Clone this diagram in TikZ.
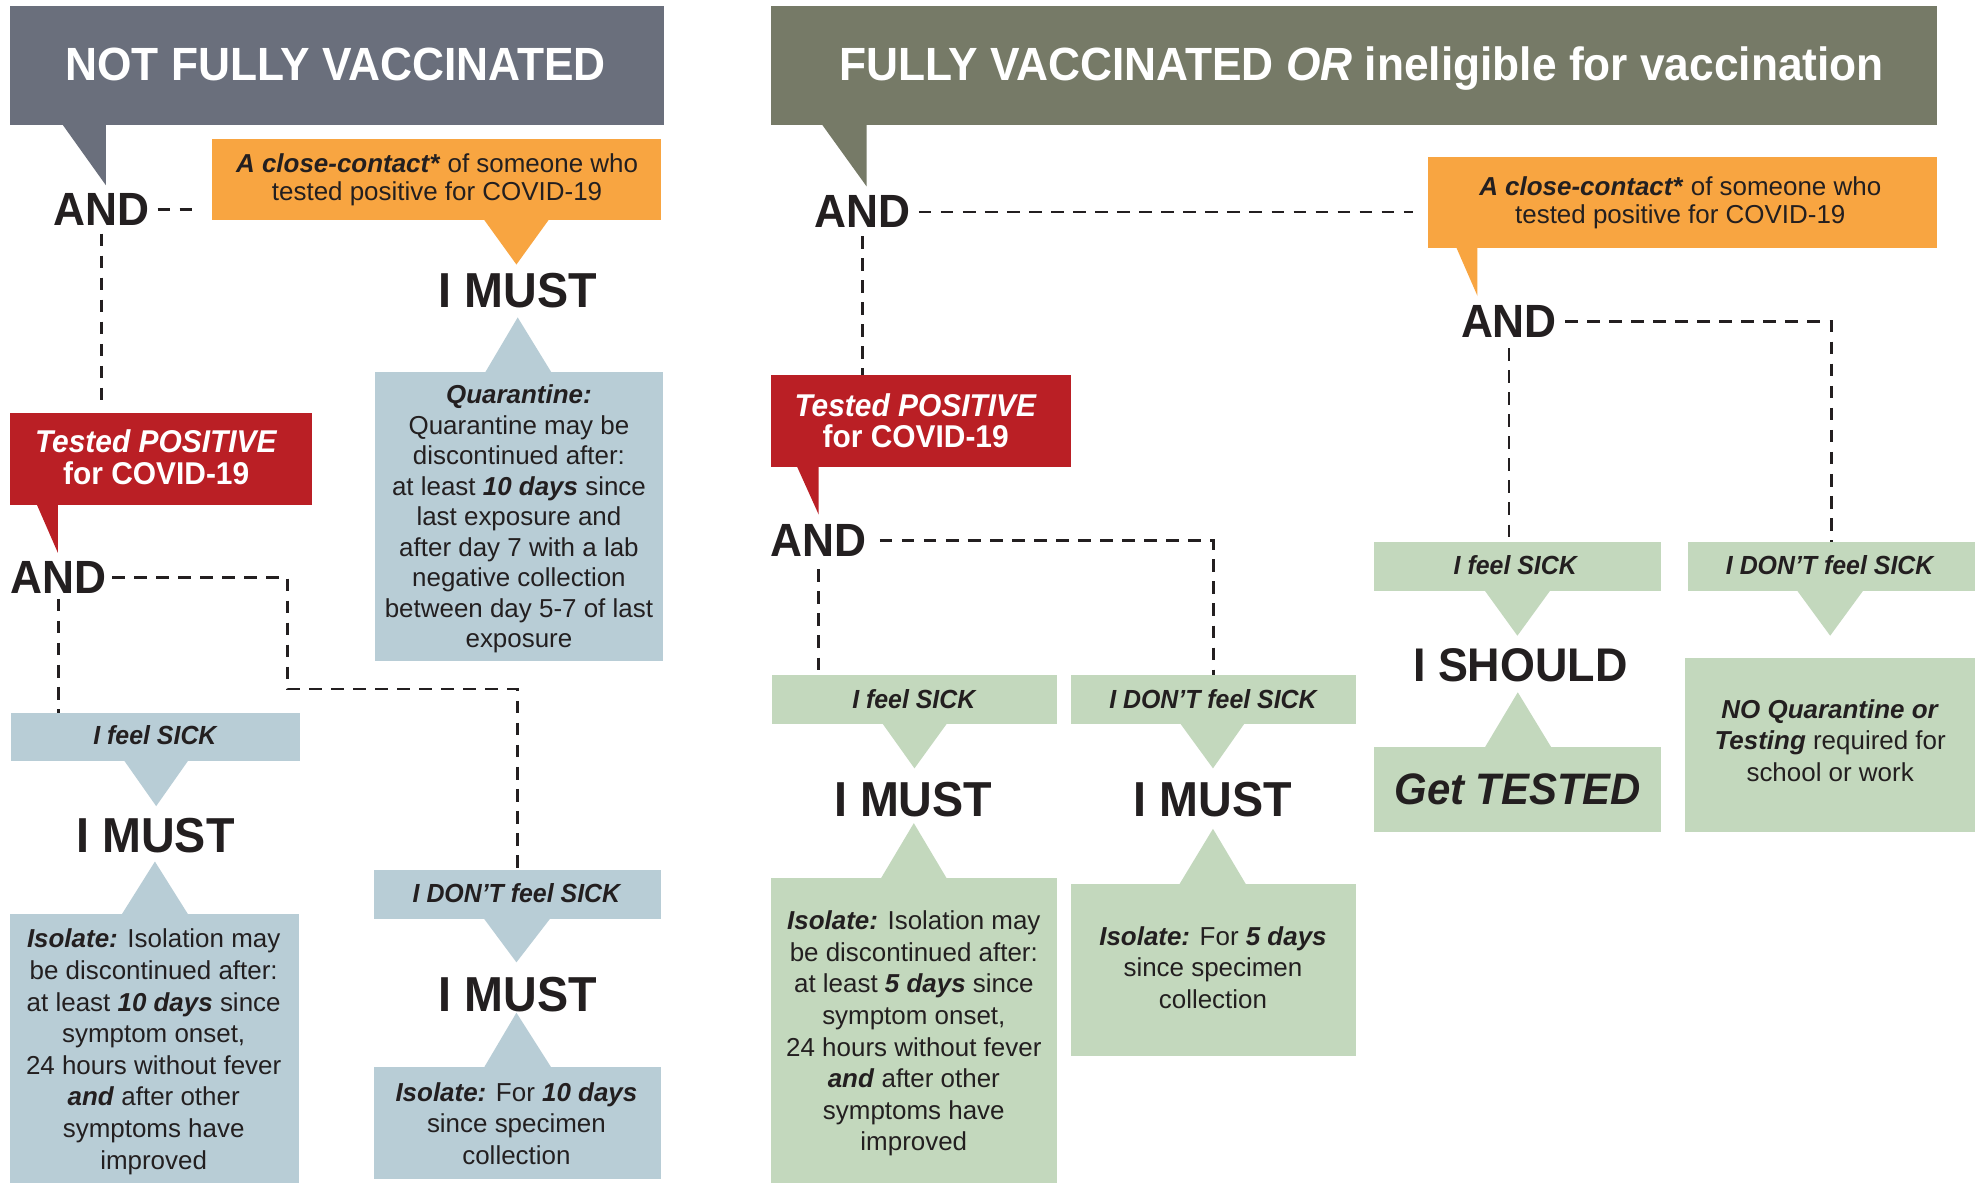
\documentclass[tikz,border=0pt]{standalone}
\usepackage{fontspec}
\setmainfont{Liberation Sans}
\newfontfamily\dispfont[FakeStretch=0.95]{Liberation Sans}
\usetikzlibrary{fit}
\definecolor{hdrGray}{HTML}{6A6F7C}
\definecolor{hdrOlive}{HTML}{767A67}
\definecolor{orangeC}{HTML}{F8A541}
\definecolor{redC}{HTML}{BA1F25}
\definecolor{blueC}{HTML}{B8CDD6}
\definecolor{greenC}{HTML}{C3D8BD}
\definecolor{ink}{HTML}{231F20}
\tikzset{
 box/.style={inner sep=0pt, outer sep=0pt, draw=none},
 dl/.style={draw=ink, line width=1.1pt, dash pattern=on 5pt off 3.75pt, shorten <=3pt},
 body/.style={font=\fontsize{10.3pt}{12.5pt}\selectfont, text=ink, align=center, inner sep=0pt},
 hdtext/.style={font=\dispfont\bfseries\fontsize{18.5pt}{20pt}\selectfont, text=white, inner sep=0pt, anchor=base},
 andtext/.style={font=\dispfont\bfseries\fontsize{18.5pt}{20pt}\selectfont, text=ink, inner sep=0pt, anchor=base},
 musttext/.style={font=\dispfont\bfseries\fontsize{19.5pt}{21pt}\selectfont, text=ink, inner sep=0pt, anchor=base},
 feeltext/.style={font=\dispfont\bfseries\itshape\fontsize{10.4pt}{12pt}\selectfont, text=ink, inner sep=0pt},
 redtext/.style={font=\dispfont\bfseries\fontsize{12.5pt}{12.5pt}\selectfont, text=white, align=center, inner sep=0pt},
}
\begin{document}
\begin{tikzpicture}[x=0.5pt, y=-0.5pt]
\useasboundingbox[fill=white] (0,0) rectangle (1568,939);
% ---------- LEFT boxes ----------
\node[box, fill=hdrGray, fit={(8,5)(527,99)}] (hdrL) {};
\fill[hdrGray] (49,98) -- (84,98) -- (84,147) -- cycle;
\node[box, fill=orangeC, fit={(168,110)(525,175)}] (orL) {};
\fill[orangeC] (384,174) -- (436,174) -- (410,210) -- cycle;
\node[box, fill=blueC, fit={(298,295)(526,525)}] (quar) {};
\fill[blueC] (385,296) -- (438,296) -- (411,252) -- cycle;
\node[box, fill=redC, fit={(8,328)(248,401)}] (redL) {};
\fill[redC] (29,400) -- (46,400) -- (46,439) -- cycle;
\node[box, fill=blueC, fit={(9,566)(238,604)}] (sickL) {};
\fill[blueC] (98,603) -- (150,603) -- (124,640) -- cycle;
\node[box, fill=blueC, fit={(8,726)(237,939)}] (isoL1) {};
\fill[blueC] (96,727) -- (150,727) -- (123,684) -- cycle;
\node[box, fill=blueC, fit={(297,690.5)(525,729.6)}] (dontL) {};
\fill[blueC] (384,729) -- (437,729) -- (410,764) -- cycle;
\node[box, fill=blueC, fit={(297,847)(525,936)}] (isoL2) {};
\fill[blueC] (384,848) -- (438,848) -- (410,804) -- cycle;
% ---------- RIGHT boxes ----------
\node[box, fill=hdrOlive, fit={(612,5)(1538,99)}] (hdrR) {};
\fill[hdrOlive] (652,98) -- (688,98) -- (688,148) -- cycle;
\node[box, fill=orangeC, fit={(1134,125)(1538,197)}] (orR) {};
\fill[orangeC] (1156,196) -- (1173,196) -- (1173,235) -- cycle;
\node[box, fill=redC, fit={(612,298)(850,371)}] (redR) {};
\fill[redC] (632.6,370) -- (650,370) -- (650,408.6) -- cycle;
\node[box, fill=greenC, fit={(613,536)(839.5,574.4)}] (sickM) {};
\fill[greenC] (699.6,573) -- (752.8,573) -- (726,610) -- cycle;
\node[box, fill=greenC, fit={(850,536)(1076.5,574.4)}] (dontM) {};
\fill[greenC] (936,573) -- (989,573) -- (963,610) -- cycle;
\node[box, fill=greenC, fit={(612,697)(839,939)}] (isoR1) {};
\fill[greenC] (699,698) -- (752,698) -- (725.5,653.5) -- cycle;
\node[box, fill=greenC, fit={(850,701.6)(1076.5,838)}] (isoR2) {};
\fill[greenC] (936,702.6) -- (989.5,702.6) -- (963,658) -- cycle;
\node[box, fill=greenC, fit={(1091,430.5)(1319,468.8)}] (sickR) {};
\fill[greenC] (1178,467.8) -- (1231.5,467.8) -- (1204.7,504.7) -- cycle;
\node[box, fill=greenC, fit={(1340,430.5)(1568,468.8)}] (dontR) {};
\fill[greenC] (1426,467.8) -- (1480,467.8) -- (1453,504.7) -- cycle;
\node[box, fill=greenC, fit={(1091,593)(1319,660.5)}] (testR) {};
\fill[greenC] (1178.5,594) -- (1232,594) -- (1205,549.6) -- cycle;
\node[box, fill=greenC, fit={(1338,522)(1568,660.5)}] (noqR) {};
% ---------- headings and big words ----------
\node[hdtext] (tHL) at (266.5,64) {NOT FULLY VACCINATED};
\node[hdtext] (tHR) at (1081,64) {FULLY VACCINATED \textit{OR} ineligible for vaccination};
\node[andtext] (andL1) at (80.7,179) {AND};
\node[andtext] (andL2) at (46.6,471) {AND};
\node[andtext] (andR1) at (685,181) {AND};
\node[andtext] (andR2) at (1198,268) {AND};
\node[andtext] (andR3) at (650,441.6) {AND};
\node[musttext] (mL1) at (411,244) {I MUST};
\node[musttext] (mL2) at (123.5,677) {I MUST};
\node[musttext] (mL3) at (411,803) {I MUST};
\node[musttext] (mR1) at (725,648) {I MUST};
\node[musttext] (mR2) at (963,648) {I MUST};
\node[musttext, font=\dispfont\bfseries\fontsize{18.75pt}{21pt}\selectfont] (shR) at (1207,541) {I SHOULD};
\node[musttext, font=\dispfont\bfseries\itshape\fontsize{17.5pt}{20pt}\selectfont] (gtR) at (1205,638.6) {Get TESTED};
% ---------- feel labels ----------
\node[feeltext] (tsL) at (123,584) {I feel SICK};
\node[feeltext] (tdL) at (410,709) {I DON’T feel SICK};
\node[feeltext] (tsM) at (725.5,555) {I feel SICK};
\node[feeltext] (tdM) at (963,555) {I DON’T feel SICK};
\node[feeltext] (tsR) at (1203,449) {I feel SICK};
\node[feeltext] (tdR) at (1452.6,449) {I DON’T feel SICK};
% ---------- red labels ----------
\node[redtext] (trL) at (124,363) {\textit{Tested POSITIVE}\\for COVID-19};
\node[redtext] (trR) at (727,334) {\textit{Tested POSITIVE}\\for COVID-19};
% ---------- body texts ----------
\node[body, font=\fontsize{10.3pt}{11.15pt}\selectfont] (toL) at (347,143) {\textbf{\textit{A close-contact*}} of someone who\\tested positive for COVID-19};
\node[body, font=\fontsize{10.3pt}{11pt}\selectfont] (toR) at (1334,161) {\textbf{\textit{A close-contact*}} of someone who\\tested positive for COVID-19};
\node[body, font=\fontsize{10.3pt}{12.1pt}\selectfont] (tq) at (412,412) {\textbf{\textit{Quarantine:}}\\Quarantine may be\\discontinued after:\\at least \textbf{\textit{10 days}} since\\last exposure and\\after day 7 with a lab\\negative collection\\between day 5-7 of last\\exposure};
\node[body, font=\fontsize{10.3pt}{12.55pt}\selectfont] (ti1) at (122,835) {\textbf{\textit{Isolate:}} Isolation may\\be discontinued after:\\at least \textbf{\textit{10 days}} since\\symptom onset,\\24 hours without fever\\\textbf{\textit{and}} after other\\symptoms have\\improved};
\node[body] (ti2) at (410,892) {\textbf{\textit{Isolate:}} For \textbf{\textit{10 days}}\\since specimen\\collection};
\node[body, font=\fontsize{10.3pt}{12.55pt}\selectfont] (ti3) at (725.5,820.5) {\textbf{\textit{Isolate:}} Isolation may\\be discontinued after:\\at least \textbf{\textit{5 days}} since\\symptom onset,\\24 hours without fever\\\textbf{\textit{and}} after other\\symptoms have\\improved};
\node[body] (ti4) at (963,768) {\textbf{\textit{Isolate:}} For \textbf{\textit{5 days}}\\since specimen\\collection};
\node[body] (tnq) at (1453,588) {\textbf{\textit{NO Quarantine or}}\\\textbf{\textit{Testing}} required for\\school or work};
% ---------- dashed connectors ----------
\draw[dl, shorten >=5pt] (andL1.east) -- (andL1.east -| orL.west);
\draw[dl, shorten >=3pt] (andL1.south) -- (andL1.south |- redL.north);
\draw[dl, shorten <=2pt] (andL2.south) -- (andL2.south |- sickL.north);
\coordinate (kL) at (228,547);
\draw[dl, shorten <=2pt] (andL2.east) -| (kL) -| (dontL.north);
\draw[dl, shorten >=6pt] (andR1.east) -- (andR1.east -| orR.west);
\draw[dl] (andR1.south) -- (andR1.south |- redR.north);
\draw[dl] (andR2.east) -| (dontR.north);
\draw[dl, shorten <=4pt] (andR2.south) -- (andR2.south |- sickR.north);
\draw[dl, shorten <=5pt] (andR3.east) -| (dontM.north);
\draw[dl, shorten <=5pt] (andR3.south) -- (andR3.south |- sickM.north);
\end{tikzpicture}
\end{document}
